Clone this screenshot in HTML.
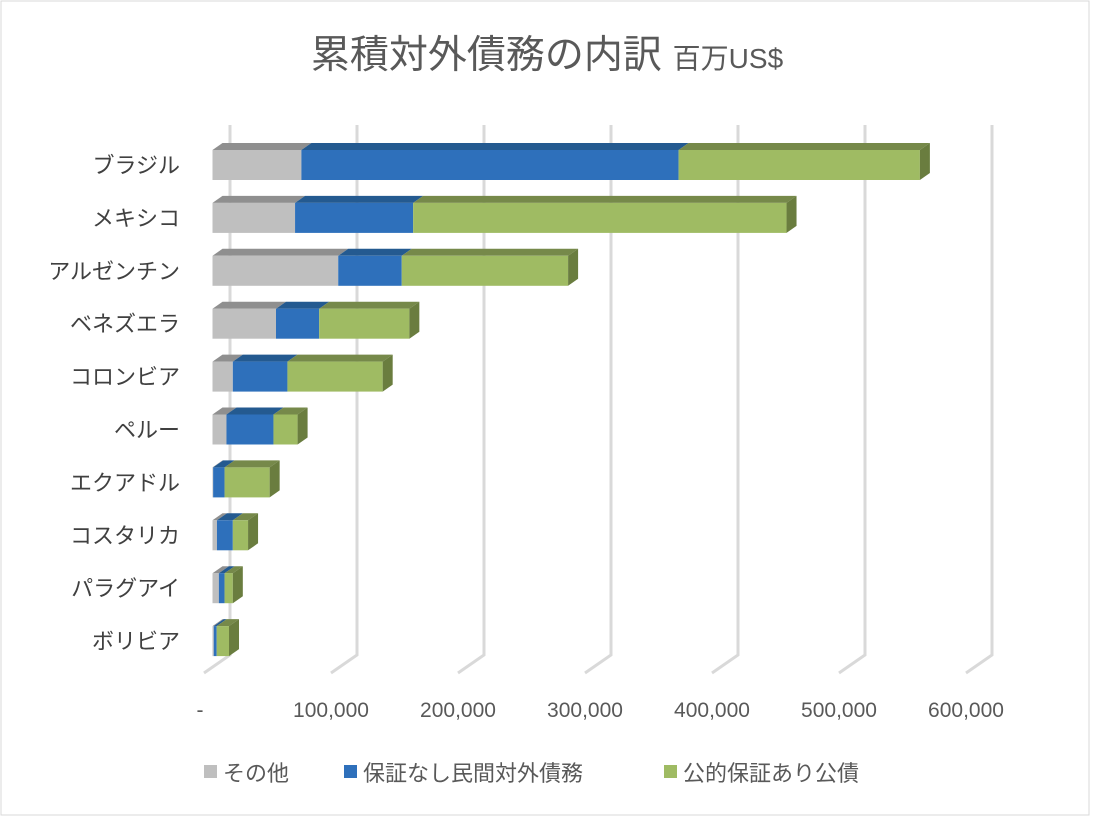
<!DOCTYPE html>
<html><head><meta charset="utf-8"><style>
html,body{margin:0;padding:0;background:#fff;}
svg{display:block;font-family:"Liberation Sans","Noto Sans CJK JP",sans-serif;}
</style></head><body>
<svg id="chart" width="1094" height="820" viewBox="0 0 1094 820">
<rect x="1" y="1" width="1088" height="814" fill="#fff" stroke="#d9d9d9"/>
<text x="547" y="68" text-anchor="middle" fill="#595959"><tspan font-size="39">累積対外債務の内訳 </tspan><tspan font-size="28">百万US$</tspan></text>
<g id="grid"></g><g id="bars"></g><g id="labels"></g>
<g font-size="22" fill="#595959">
<rect x="204" y="765" width="13" height="13" fill="#bfbfbf"/>
<text x="223" y="781">その他</text>
<rect x="344" y="765" width="13" height="13" fill="#2e70bb"/>
<text x="363" y="781">保証なし民間対外債務</text>
<rect x="664" y="765" width="13" height="13" fill="#9fbb63"/>
<text x="683" y="781">公的保証あり公債</text>
</g>
</svg>
<script>
const categories=["ブラジル","メキシコ","アルゼンチン","ベネズエラ","コロンビア","ペルー","エクアドル","コスタリカ","パラグアイ","ボリビア"];
const otherVals=[70000,65000,99000,50000,16000,11000,500,3500,5000,1000];
const privateVals=[297000,93000,50000,34000,43000,37000,9000,12500,4500,2300];
const publicVals=[190000,294000,131000,71000,75000,19000,35500,12000,6500,9700];
const tickVals=[0,100000,200000,300000,400000,500000,600000];
const tickLabels=["-","100,000","200,000","300,000","400,000","500,000","600,000"];
const NS="http://www.w3.org/2000/svg";
const x0=212.5,scale=1.27/1000,DX=10,DY=7,H=30;
const xs=v=>x0+v*scale;
const yRow=i=>150+i*52.9;
function mk(tag,attrs,parent){const e=document.createElementNS(NS,tag);for(const k in attrs)e.setAttribute(k,attrs[k]);parent.appendChild(e);return e;}
const grid=document.getElementById('grid'),bars=document.getElementById('bars'),labels=document.getElementById('labels');
tickVals.forEach((v,i)=>{
  const bx=xs(v)+17.5;
  const p=mk('polyline',{points:`${bx},125 ${bx},655 ${bx-26},673`,fill:'none',stroke:'#d9d9d9','stroke-width':3},grid);
  
  
  const t=mk('text',{x:bx-26+(i==0?-4:0),y:717,'text-anchor':'middle','font-size':21,fill:'#595959'},labels);
  t.textContent=tickLabels[i];
  
  
});
const series=[[otherVals,'#bfbfbf','#8f8f8f','#8f8f8f','other'],[privateVals,'#2e70bb','#245a90','#234f80','private'],[publicVals,'#9fbb63','#76894a','#6a7d3f','public']];
for(let i=categories.length-1;i>=0;i--){
  const y=yRow(i);let acc=0;
  const g=mk('g',{},bars);
  
  
  const total=otherVals[i]+privateVals[i]+publicVals[i];
  series.forEach((s,k)=>{
    const a=xs(acc),b=xs(acc+s[0][i]);acc+=s[0][i];
    const top=mk('polygon',{points:`${a},${y} ${a+DX},${y-DY} ${b+DX},${y-DY} ${b},${y}`,fill:s[2]},g);
    
    
    const r=mk('rect',{x:a,y:y,width:Math.max(0,b-a),height:H,fill:s[1]},g);
    
    
  });
  const e=xs(total);
  const side=mk('polygon',{points:`${e},${y} ${e+DX},${y-DY} ${e+DX},${y+H-DY} ${e},${y+H}`,fill:series[2][3]},g);
  
  
  const t=mk('text',{x:180,y:y+H/2+8,'text-anchor':'end','font-size':22,fill:'#404040'},labels);
  t.textContent=categories[i];
  
  
}
</script>
</body></html>
